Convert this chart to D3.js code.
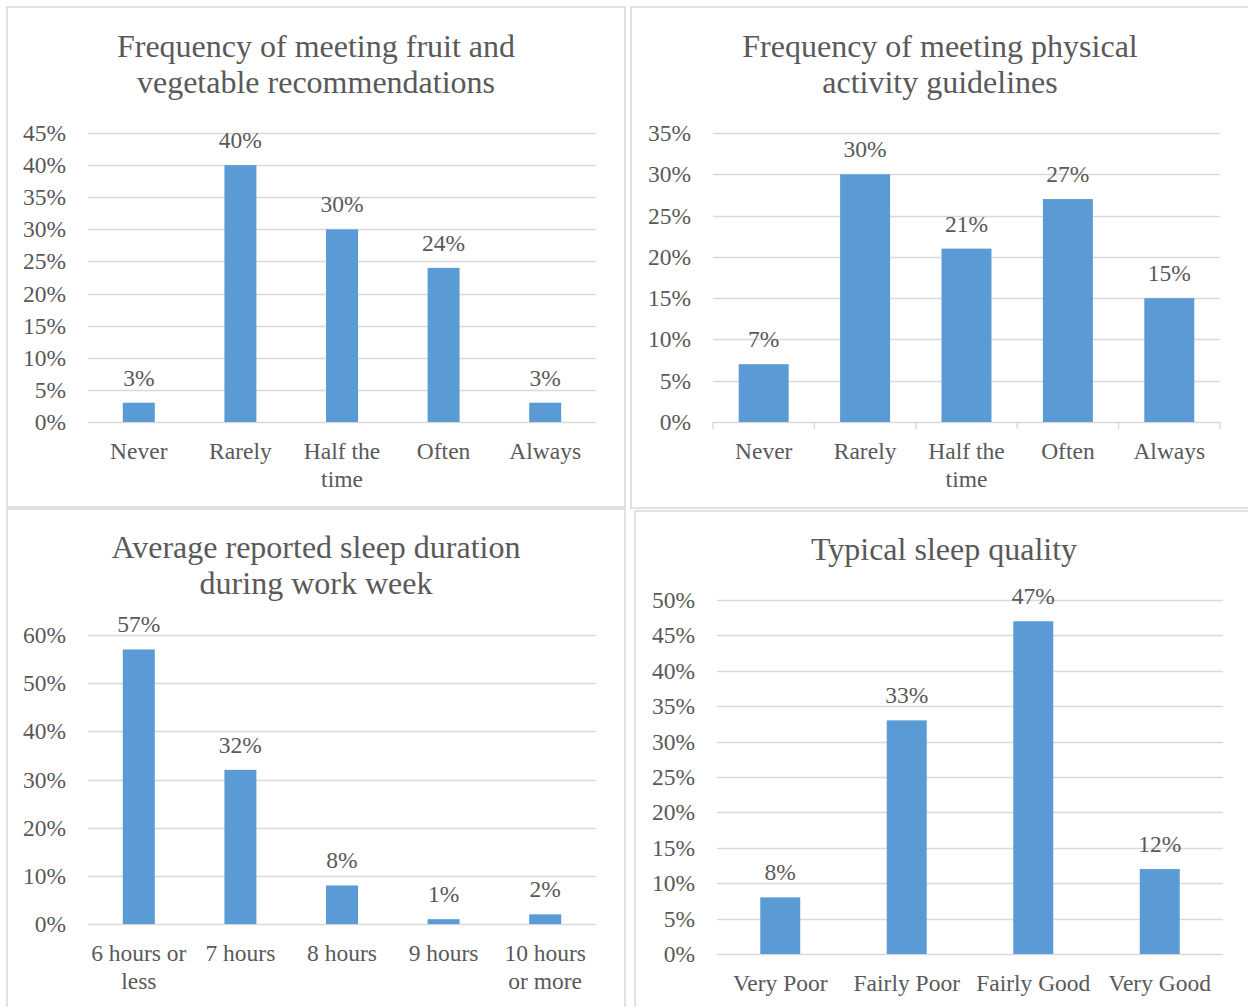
<!DOCTYPE html>
<html>
<head>
<meta charset="utf-8">
<script src="https://cdn.jsdelivr.net/npm/d3@7"></script>
<style>
  html, body { margin: 0; padding: 0; background: #fff; }
  svg { display: block; }
  text { font-family: "Liberation Serif", "Times New Roman", serif; fill: #595959; }
</style>
</head>
<body>
<svg id="chart" width="1248" height="1007"></svg>
<script>
// ---- data ----
const fruitCategories = ["Never", "Rarely", "Half the time", "Often", "Always"];
const fruitValues = [0.03, 0.40, 0.30, 0.24, 0.03];
const fruitTicks = [0, 0.05, 0.10, 0.15, 0.20, 0.25, 0.30, 0.35, 0.40, 0.45];

const activityCategories = ["Never", "Rarely", "Half the time", "Often", "Always"];
const activityValues = [0.07, 0.30, 0.21, 0.27, 0.15];
const activityTicks = [0, 0.05, 0.10, 0.15, 0.20, 0.25, 0.30, 0.35];

const durationCategories = ["6 hours or less", "7 hours", "8 hours", "9 hours", "10 hours or more"];
const durationValues = [0.57, 0.32, 0.08, 0.01, 0.02];
const durationTicks = [0, 0.10, 0.20, 0.30, 0.40, 0.50, 0.60];

const qualityCategories = ["Very Poor", "Fairly Poor", "Fairly Good", "Very Good"];
const qualityValues = [0.08, 0.33, 0.47, 0.12];
const qualityTicks = [0, 0.05, 0.10, 0.15, 0.20, 0.25, 0.30, 0.35, 0.40, 0.45, 0.50];

const titles = [
  "Frequency of meeting fruit and vegetable recommendations",
  "Frequency of meeting physical activity guidelines",
  "Average reported sleep duration during work week",
  "Typical sleep quality"
];

// ---- layout ----
const panels = [
  { box: [7, 7, 625, 507], title: titles[0], titleX: 316, titleY: 57,
    x: [88, 596], y: [422, 133], cats: fruitCategories, vals: fruitValues,
    ticks: fruitTicks, pad: 0.685, tickMarks: false },
  { box: [631, 7, 1250, 508], title: titles[1], titleX: 940, titleY: 57,
    x: [713, 1220], y: [422, 133], cats: activityCategories, vals: activityValues,
    ticks: activityTicks, pad: 0.507, tickMarks: true },
  { box: [7, 509, 625, 1012], title: titles[2], titleX: 316, titleY: 558,
    x: [88, 596], y: [924, 635], cats: durationCategories, vals: durationValues,
    ticks: durationTicks, pad: 0.685, tickMarks: false },
  { box: [635, 511, 1254, 1012], title: titles[3], titleX: 944, titleY: 560,
    x: [717, 1223], y: [954, 600], cats: qualityCategories, vals: qualityValues,
    ticks: qualityTicks, pad: 0.684, tickMarks: false }
];

const BAR = "#5B9BD5", GRID = "#D9D9D9";
const fmt = d3.format(".0%");
const svg = d3.select("#chart");

// split words into lines no wider than maxW, measured on a scratch text node
function wrap(str, size, maxW) {
  const probe = svg.append("text").style("font-size", size + "px");
  const words = str.split(" ");
  const lines = [];
  let cur = "";
  for (const w of words) {
    const test = cur ? cur + " " + w : w;
    probe.text(test);
    if (cur && probe.node().getComputedTextLength() > maxW) {
      lines.push(cur);
      cur = w;
    } else {
      cur = test;
    }
  }
  if (cur) lines.push(cur);
  probe.remove();
  return lines;
}

panels.forEach(p => {
  const g = svg.append("g");
  const [bx0, by0, bx1, by1] = p.box;

  g.append("rect")
    .attr("x", bx0).attr("y", by0)
    .attr("width", bx1 - bx0).attr("height", by1 - by0)
    .attr("fill", "#fff").attr("stroke", GRID).attr("stroke-width", 1.5);

  // title
  const tLines = wrap(p.title, 32, 420);
  g.append("text")
    .attr("text-anchor", "middle")
    .style("font-size", "32px")
    .selectAll("tspan").data(tLines).join("tspan")
    .attr("x", p.titleX)
    .attr("y", (d, i) => p.titleY + i * 36)
    .text(d => d);

  const x = d3.scaleBand().domain(p.cats).range(p.x)
    .paddingInner(p.pad).paddingOuter(p.pad / 2);
  const y = d3.scaleLinear().domain([0, d3.max(p.ticks)]).range(p.y);
  const step = x.step();

  // gridlines
  g.append("g").selectAll("line").data(p.ticks).join("line")
    .attr("x1", p.x[0]).attr("x2", p.x[1])
    .attr("y1", d => Math.round(y(d)) + 0.5).attr("y2", d => Math.round(y(d)) + 0.5)
    .attr("stroke", GRID).attr("stroke-width", 1.4);

  // value axis labels
  g.append("g").selectAll("text").data(p.ticks).join("text")
    .attr("x", p.x[0] - 22).attr("y", d => y(d) + 8)
    .attr("text-anchor", "end").style("font-size", "23.5px")
    .text(d => fmt(d));

  // category axis tick marks
  if (p.tickMarks) {
    g.append("g").selectAll("line").data(d3.range(p.cats.length + 1)).join("line")
      .attr("x1", i => p.x[0] + i * step).attr("x2", i => p.x[0] + i * step)
      .attr("y1", p.y[0]).attr("y2", p.y[0] + 7)
      .attr("stroke", GRID).attr("stroke-width", 1.4);
  }

  // bars
  const data = p.cats.map((c, i) => ({ c, v: p.vals[i] }));
  g.append("g").selectAll("rect").data(data).join("rect")
    .attr("x", d => x(d.c)).attr("width", x.bandwidth())
    .attr("y", d => y(d.v)).attr("height", d => y(0) - y(d.v))
    .attr("fill", BAR);

  // data labels
  g.append("g").selectAll("text").data(data).join("text")
    .attr("x", d => x(d.c) + x.bandwidth() / 2)
    .attr("y", d => y(d.v) - 17)
    .attr("text-anchor", "middle").style("font-size", "23.5px")
    .text(d => fmt(d.v));

  // category labels
  const cg = g.append("g");
  data.forEach(d => {
    const lines = wrap(d.c, 23.5, step);
    cg.append("text")
      .attr("text-anchor", "middle").style("font-size", "23.5px")
      .selectAll("tspan").data(lines).join("tspan")
      .attr("x", x(d.c) + x.bandwidth() / 2)
      .attr("y", (l, i) => p.y[0] + 37 + i * 28)
      .text(l => l);
  });
});
</script>
</body>
</html>
